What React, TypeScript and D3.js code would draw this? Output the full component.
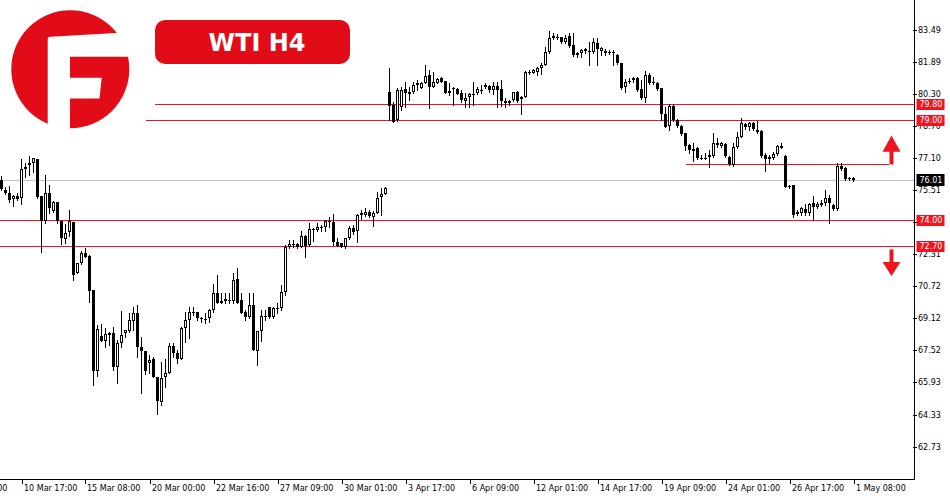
import React from "react";
import * as d3 from "d3";

// ---- data (WTI H4) ----
const opens = [76.01,75.51,75.38,75.05,75.21,75.10,76.57,76.74,76.84,77.04,75.21,73.97,75.38,74.45,74.91,73.97,73.07,73.41,73.93,71.40,71.86,72.36,72.23,70.53,66.50,68.24,68.01,68.41,68.41,66.72,67.88,68.41,68.51,69.01,69.40,67.68,67.51,66.88,67.08,66.19,64.97,66.19,66.42,67.75,67.38,67.08,68.63,69.04,69.45,69.45,69.13,69.08,69.13,69.54,70.37,69.90,70.07,70.04,70.00,71.07,70.04,69.45,69.18,69.79,67.51,68.51,69.24,69.67,69.18,69.62,69.64,70.43,72.66,72.82,72.82,72.66,73.22,72.77,73.56,73.52,73.66,73.69,73.98,73.93,72.94,72.86,72.66,73.11,73.61,73.49,74.25,74.28,74.43,74.18,74.35,75.15,75.30,80.41,79.74,78.99,79.66,80.53,80.33,80.41,80.74,80.57,80.85,81.24,80.65,80.85,81.10,80.94,80.33,80.60,80.54,80.36,79.96,80.13,80.29,80.33,80.49,80.74,80.69,80.49,80.69,80.53,79.96,79.83,79.99,80.41,80.16,80.16,81.40,81.35,81.40,81.57,81.73,82.40,83.06,83.14,83.11,82.89,83.18,82.73,82.35,82.32,82.45,82.45,82.37,82.84,82.45,82.45,82.37,82.37,82.23,81.82,80.65,80.95,80.99,81.07,80.53,80.11,81.24,80.90,80.85,80.57,79.30,78.70,79.69,78.99,78.70,78.34,77.75,77.47,77.59,77.09,77.10,77.14,77.20,77.75,77.70,77.80,77.14,76.76,77.64,78.17,78.80,78.63,78.86,78.50,78.46,77.25,77.04,77.09,77.30,77.64,77.20,75.71,75.76,74.32,74.35,74.55,74.35,74.85,74.65,74.82,74.88,75.10,74.77,74.55,76.71,76.59,76.09,76.09];
const highs = [76.21,75.68,75.71,75.26,75.38,77.06,76.84,77.20,77.09,77.07,75.21,76.26,75.76,74.96,74.91,73.97,73.82,74.52,73.93,71.89,72.48,72.64,72.28,70.53,68.79,68.84,68.63,68.46,68.71,68.04,69.50,68.54,69.37,69.70,69.79,68.21,67.51,67.30,67.21,66.19,66.97,67.08,67.88,67.91,67.55,68.71,69.45,69.70,69.70,69.45,69.21,69.37,69.57,70.83,71.28,70.37,70.37,70.37,71.40,71.61,70.37,69.54,70.37,70.37,68.51,69.54,69.54,69.70,69.70,69.90,70.78,72.77,73.02,73.02,72.86,73.49,73.27,73.88,73.61,73.88,73.75,74.02,74.15,74.32,73.11,72.89,73.11,73.72,73.77,74.32,74.52,74.60,74.52,74.48,75.43,75.60,75.65,81.57,79.91,80.57,80.65,80.90,80.65,80.90,80.99,80.90,81.73,81.49,81.40,81.07,81.15,80.94,80.82,80.65,80.57,80.49,80.33,80.33,80.90,80.65,80.74,80.82,80.74,80.90,80.90,80.99,80.08,79.99,80.39,80.46,80.19,81.45,81.49,81.52,81.65,81.85,82.65,83.44,83.31,83.28,83.14,83.23,83.31,83.31,82.40,82.52,82.57,82.89,83.06,83.06,82.62,82.52,82.48,82.48,82.28,81.85,81.02,81.07,81.12,81.15,80.99,81.45,81.32,81.15,80.90,80.57,79.63,79.79,79.79,79.03,78.75,78.37,77.80,77.84,77.64,77.25,77.37,77.50,78.33,78.09,77.92,77.84,77.20,77.84,78.41,79.08,78.83,78.91,78.91,78.96,78.50,77.34,77.25,77.42,77.75,77.87,77.25,75.76,75.76,74.52,74.68,74.82,74.85,75.21,74.93,75.01,75.51,75.26,74.82,76.87,76.87,76.64,76.14,76.14];
const lows = [75.51,75.31,74.93,74.73,75.01,74.80,76.14,76.24,76.42,75.10,72.44,73.85,74.38,74.42,73.85,72.82,72.86,73.22,71.03,71.37,71.83,72.16,69.95,65.81,66.25,68.01,67.68,67.80,66.55,65.92,67.68,68.18,68.46,68.54,67.21,65.42,66.35,66.42,66.19,64.36,64.81,65.69,66.40,67.21,66.92,67.08,67.96,68.13,69.29,69.04,68.96,68.88,68.96,69.45,69.87,69.87,69.90,69.87,69.90,69.87,69.40,69.04,69.13,67.55,66.80,68.01,69.04,69.13,69.13,69.37,69.54,70.29,72.61,72.66,72.61,72.66,72.16,72.72,72.99,73.49,73.49,73.49,73.69,72.77,72.72,72.66,72.61,73.06,73.32,72.94,74.05,74.22,74.18,73.72,74.35,74.27,75.30,79.00,78.91,78.96,79.49,79.63,79.99,80.33,80.49,80.57,80.82,79.58,80.65,80.82,80.90,80.33,80.24,79.74,80.29,79.91,79.63,79.63,79.74,80.29,80.33,80.57,80.41,80.29,79.66,79.69,79.63,79.74,79.96,79.91,79.30,80.13,81.29,81.32,81.24,81.29,81.73,82.32,83.01,83.01,82.84,82.84,82.65,82.18,82.15,82.12,82.32,81.73,82.32,81.73,82.23,82.23,82.28,81.73,81.78,80.53,80.41,80.82,80.90,80.46,80.03,79.91,80.79,80.79,80.49,79.00,78.63,78.50,78.96,78.63,78.25,77.50,77.37,76.97,77.04,77.04,77.04,76.67,77.17,77.67,77.67,77.17,76.76,76.71,77.59,78.14,78.53,78.50,78.50,78.33,77.17,76.47,76.87,77.04,77.25,77.59,75.65,75.60,74.18,74.27,74.27,74.27,74.27,74.02,74.60,74.72,74.77,73.88,74.52,74.52,76.51,76.01,76.01,75.96];
const closes = [75.55,75.38,75.01,75.21,75.08,76.54,76.67,76.87,77.09,75.15,73.97,75.35,74.60,74.91,73.97,73.14,73.36,73.97,71.28,71.86,72.36,72.19,70.50,66.50,68.59,68.01,68.34,68.31,66.72,67.91,68.30,68.54,69.04,69.40,67.68,67.51,66.52,67.05,66.19,65.02,66.14,66.42,67.75,67.41,67.08,68.63,69.04,69.45,69.45,69.13,69.13,69.08,69.54,70.40,69.87,70.00,70.00,70.04,71.03,69.90,69.40,69.18,69.79,67.55,68.51,69.24,69.24,69.18,69.62,69.62,70.43,72.67,72.82,72.82,72.66,73.22,72.72,73.56,73.56,73.66,73.66,73.98,73.98,72.94,72.72,72.69,73.11,73.61,73.44,74.27,74.35,74.42,74.22,74.35,75.10,75.31,75.60,79.69,78.91,80.49,80.49,80.36,80.41,80.74,80.85,80.82,81.19,80.65,80.90,81.02,80.90,80.33,80.46,80.54,80.29,79.99,80.08,80.29,80.29,80.53,80.49,80.65,80.49,80.69,80.49,79.96,79.83,79.94,80.39,79.96,80.04,81.40,81.40,81.49,81.57,81.73,82.40,83.06,83.18,83.14,82.89,83.06,82.68,82.23,82.25,82.48,82.52,82.37,82.89,82.52,82.57,82.32,82.32,82.32,81.82,80.57,80.90,80.95,81.07,80.49,80.08,81.24,80.82,80.82,80.53,79.30,78.66,79.69,79.00,78.70,78.30,77.70,77.50,77.54,77.09,77.09,77.10,77.25,77.87,77.87,77.87,77.20,76.81,77.64,78.14,78.83,78.63,78.86,78.53,78.41,77.20,77.04,77.14,77.30,77.70,77.70,75.68,75.65,74.27,74.43,74.60,74.35,74.82,74.68,74.82,74.88,75.10,74.85,74.55,76.71,76.54,76.05,76.09,76.01];

const priceTicks = [62.73, 64.33, 65.93, 67.52, 69.12, 70.72, 72.31, 73.91, 75.51, 77.10, 78.70, 80.30, 81.89, 83.49];
const timeTickIndex = [-11, 5, 21, 37, 53, 69, 85, 101, 117, 133, 149, 165, 181, 197, 213];
const timeTickLabels = ["8 Mar 01:00", "10 Mar 17:00", "15 Mar 08:00", "20 Mar 00:00", "22 Mar 16:00", "27 Mar 09:00", "30 Mar 01:00", "3 Apr 17:00", "6 Apr 09:00", "12 Apr 01:00", "14 Apr 17:00", "19 Apr 09:00", "24 Apr 01:00", "26 Apr 17:00", "1 May 08:00"];
const levels = [79.80, 79.00, 74.00, 72.70];
const levelLabels = ["79.80", "79.00", "74.00", "72.70"];
const levelStartIndex = [38.4, 36.1, -1, -1];
const shortLevel = 76.80;
const shortLevelRange = [171.1, 221.9];
const lastPrice = 76.01;
const title = "WTI H4";
// arrow price anchors: [tip, head base]
const upArrow = [78.22, 77.42];
const downArrow = [71.23, 71.93];

const RED = "#f0141e";
const LOGO_RED = "#e20c19";
const FONT = "'DejaVu Sans', Verdana, sans-serif";

export default function App() {
  const W = 950, H = 500;
  const plotRight = 914, plotBottom = 479;
  const x = d3.scaleLinear().domain([0, 213]).range([1.5, 853.5]);
  const y = d3.scaleLinear().domain([61.12, 84.97]).range([plotBottom, 0]);

  const candles = opens.map((o, i) => {
    const c = closes[i], h = highs[i], l = lows[i];
    const left = Math.round(x(i) - 1.5);
    const wx = left + 1.5;
    const yo = Math.round(y(o)), yc = Math.round(y(c));
    const top = Math.min(yo, yc), bot = Math.max(yo, yc);
    const yh = Math.round(y(h)), yl = Math.round(y(l));
    let body;
    if (bot - top < 1) {
      body = <line x1={left} x2={left + 3} y1={top + 0.5} y2={top + 0.5} stroke="#000" strokeWidth={1} />;
    } else if (c > o) {
      body = bot - top < 2
        ? <rect x={left} y={top} width={3} height={2} fill="#000" />
        : <rect x={left + 0.5} y={top + 0.5} width={2} height={bot - top - 1} fill="#fff" stroke="#000" strokeWidth={1} />;
    } else {
      body = <rect x={left} y={top} width={3} height={Math.max(bot - top, 1)} fill="#000" />;
    }
    return (
      <g key={i}>
        <line x1={wx} x2={wx} y1={yh} y2={yl + 1} stroke="#000" strokeWidth={1} />
        {body}
      </g>
    );
  });

  const ly = (v: number) => Math.round(y(v)) + 0.5;

  return (
    <svg width={W} height={H} style={{ position: "absolute", left: 0, top: 0, background: "#fff" }} fontFamily={FONT}>
      <rect x={0} y={0} width={W} height={H} fill="#fff" />
      {/* last price grey line */}
      <line x1={0} x2={plotRight} y1={ly(lastPrice)} y2={ly(lastPrice)} stroke="#c0c0c0" strokeWidth={1} />
      {/* level lines */}
      {levels.map((v, k) => (
        <line key={k} x1={levelStartIndex[k] < 0 ? 0 : x(levelStartIndex[k])} x2={plotRight} y1={ly(v)} y2={ly(v)} stroke={RED} strokeWidth={1} />
      ))}
      <line x1={x(shortLevelRange[0])} x2={x(shortLevelRange[1])} y1={ly(shortLevel)} y2={ly(shortLevel)} stroke={RED} strokeWidth={1} />

      {candles}

      {/* arrows */}
      <g fill={RED}>
        <path d={`M 891.5 ${y(upArrow[0])} L 900.5 ${y(upArrow[1])} L 893.5 ${y(upArrow[1])} L 893.5 ${ly(shortLevel)} L 889.5 ${ly(shortLevel)} L 889.5 ${y(upArrow[1])} L 882.5 ${y(upArrow[1])} Z`} />
        <path d={`M 891.5 ${y(downArrow[0])} L 900.5 ${y(downArrow[1])} L 893.5 ${y(downArrow[1])} L 893.5 ${ly(72.70) + 3} L 889.5 ${ly(72.70) + 3} L 889.5 ${y(downArrow[1])} L 882.5 ${y(downArrow[1])} Z`} />
      </g>

      {/* axes */}
      <line x1={0} x2={plotRight + 0.5} y1={plotBottom + 0.5} y2={plotBottom + 0.5} stroke="#000" />
      <line x1={plotRight + 0.5} x2={plotRight + 0.5} y1={0} y2={plotBottom + 0.5} stroke="#000" />
      {priceTicks.map((v, k) => (
        <g key={k}>
          <line x1={plotRight - 1} x2={plotRight + 3} y1={ly(v)} y2={ly(v)} stroke="#000" />
          <text x={918} y={y(v) + 3} fontSize={8} fill="#000">{v.toFixed(2)}</text>
        </g>
      ))}
      {timeTickIndex.map((idx, k) => {
        const tx = Math.round(x(idx)) + 0.5;
        return (
          <g key={k}>
            <line x1={tx} x2={tx} y1={plotBottom} y2={plotBottom + 5} stroke="#000" />
            <text x={tx + 1.5} y={491} fontSize={8} fill="#000">{timeTickLabels[k]}</text>
          </g>
        );
      })}

      {/* price tags */}
      {levels.map((v, k) => (
        <g key={k}>
          <rect x={916.5} y={Math.round(y(v)) - 5} width={28} height={11} fill={RED} />
          <text x={919.5} y={y(v) + 3} fontSize={8} fill="#fff">{levelLabels[k]}</text>
        </g>
      ))}
      <rect x={916.5} y={Math.round(y(lastPrice)) - 6} width={28} height={12} fill="#000" />
      <text x={919.5} y={y(lastPrice) + 3} fontSize={8} fill="#fff">{lastPrice.toFixed(2)}</text>

      {/* title badge */}
      <rect x={155} y={20} width={195} height={44} rx={10} ry={10} fill={LOGO_RED} />
      <text x={257} y={51} textAnchor="middle" fontSize={24} fontWeight="bold" fill="#fff">{title}</text>

      {/* logo */}
      <circle cx={70.3} cy={69.2} r={59} fill={LOGO_RED} />
      <path d="M 47.7 39 Q 47.7 36.8 50 36.7 L 116 33 L 140 31 L 140 56.7 L 70 56.7 L 70 77.7 L 101.7 77.7 L 99.5 98.5 L 70 98.5 L 70 136 L 47.7 136 Z" fill="#fff" />
    </svg>
  );
}
